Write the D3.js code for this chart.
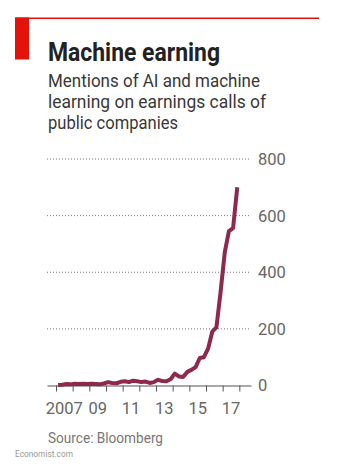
<!DOCTYPE html>
<html>
<head>
<meta charset="utf-8">
<script src="https://cdn.jsdelivr.net/npm/d3@7"></script>
<style>
  body { margin: 0; background: #fff; }
  svg { display: block; font-family: Roboto, "Noto Sans", sans-serif; }
</style>
</head>
<body>
<div id="chart"></div>
<script>
// Data (quarterly)
var quarters = [
  "2007Q1","2007Q2","2007Q3","2007Q4","2008Q1","2008Q2","2008Q3","2008Q4",
  "2009Q1","2009Q2","2009Q3","2009Q4","2010Q1","2010Q2","2010Q3","2010Q4",
  "2011Q1","2011Q2","2011Q3","2011Q4","2012Q1","2012Q2","2012Q3","2012Q4",
  "2013Q1","2013Q2","2013Q3","2013Q4","2014Q1","2014Q2","2014Q3","2014Q4",
  "2015Q1","2015Q2","2015Q3","2015Q4","2016Q1","2016Q2","2016Q3","2016Q4",
  "2017Q1","2017Q2","2017Q3","2017Q4"
];
var mentions = [
  2, 3, 5, 4, 6, 5, 6, 5,
  6, 5, 4, 7, 12, 9, 8, 13,
  15, 12, 17, 15, 12, 14, 9, 12,
  20, 16, 15, 22, 42, 32, 30, 48,
  55, 65, 97, 100, 130, 190, 205, 330,
  470, 545, 556, 700
];
var yTicks = [0, 200, 400, 600, 800];
var xTickYears = [2007, 2008, 2009, 2010, 2011, 2012, 2013, 2014, 2015, 2016, 2017, 2018];
var xLabels = ["2007", "09", "11", "13", "15", "17"];
var xLabelYears = [2007, 2009, 2011, 2013, 2015, 2017];

var title = "Machine earning";
var subtitle = ["Mentions of AI and machine", "learning on earnings calls of", "public companies"];
var source = "Source: Bloomberg";

var width = 339, height = 472;
var red = "#e3120b", lineColor = "#8e2a49", grey = "#666";

var data = quarters.map(function(q, i) {
  return { t: +q.slice(0, 4) + (+q.slice(5) - 0.5) / 4, v: mentions[i] };
});

var svg = d3.select("#chart").append("svg")
  .attr("width", width)
  .attr("height", height);

// Squeeze text to the measured width of the original
function fit(sel, w) {
  sel.each(function() {
    var len = this.getComputedTextLength();
    if (Math.abs(len - w) > 2) {
      d3.select(this).attr("textLength", w).attr("lengthAdjust", "spacingAndGlyphs");
    }
  });
}

// Header
svg.append("rect").attr("x", 15).attr("y", 17.5).attr("width", 304).attr("height", 1.5).attr("fill", red);
svg.append("rect").attr("x", 15).attr("y", 17.5).attr("width", 14).attr("height", 42).attr("fill", red);

svg.append("text")
  .attr("x", 48).attr("y", 61)
  .attr("font-size", 25).attr("font-weight", "bold")
  .attr("fill", "#222")
  .text(title)
  .call(fit, 172);

var subWidths = [212, 218, 130];
subtitle.forEach(function(s, i) {
  svg.append("text")
    .attr("x", 48).attr("y", 87 + i * 21)
    .attr("font-size", 18)
    .attr("fill", "#383838")
    .text(s)
    .call(fit, subWidths[i]);
});

// Scales
var x = d3.scaleLinear().domain([2006.46, 2018.7]).range([47, 251]);
var y = d3.scaleLinear().domain([0, 800]).range([385.5, 159]);

// Grid
svg.append("g")
  .attr("class", "grid")
  .selectAll("line")
  .data(yTicks.filter(function(d) { return d > 0; }))
  .enter().append("line")
  .attr("x1", 47).attr("x2", 251)
  .attr("y1", function(d) { return y(d); })
  .attr("y2", function(d) { return y(d); })
  .attr("stroke", "#777")
  .attr("stroke-width", 1)
  .attr("stroke-dasharray", "1,2");

// Y labels
svg.append("g").selectAll("text")
  .data(yTicks)
  .enter().append("text")
  .attr("x", 258)
  .attr("y", function(d) { return y(d); })
  .attr("dy", "0.36em")
  .attr("font-size", 16.5)
  .attr("fill", grey)
  .text(function(d) { return d; });

// X axis
var xAxis = d3.axisBottom(x)
  .tickValues(xTickYears)
  .tickSize(6)
  .tickSizeOuter(0)
  .tickFormat("");

var gx = svg.append("g")
  .attr("transform", "translate(0," + y(0) + ")")
  .call(xAxis);
gx.select(".domain").attr("stroke", "#555").attr("stroke-width", 1.2);
gx.selectAll(".tick line").attr("stroke", "#555");

svg.append("g").selectAll("text")
  .data(xLabelYears)
  .enter().append("text")
  .attr("x", function(d) { return x(d + 0.5); })
  .attr("y", 414)
  .attr("text-anchor", "middle")
  .attr("font-size", 16.5)
  .attr("fill", grey)
  .text(function(d, i) { return xLabels[i]; });

// Line
var line = d3.line()
  .x(function(d) { return x(d.t); })
  .y(function(d) { return y(d.v); });

svg.append("path")
  .datum(data)
  .attr("d", line)
  .attr("fill", "none")
  .attr("stroke", lineColor)
  .attr("stroke-width", 4)
  .attr("stroke-linejoin", "round")
  .attr("stroke-linecap", "butt");

// Footer
svg.append("text")
  .attr("x", 48).attr("y", 443)
  .attr("font-size", 15.5)
  .attr("fill", "#777")
  .text(source)
  .call(fit, 115);

svg.append("text")
  .attr("x", 15).attr("y", 457)
  .attr("font-size", 9.5)
  .attr("fill", "#999")
  .text("Economist.com")
  .call(fit, 58);
</script>
</body>
</html>
